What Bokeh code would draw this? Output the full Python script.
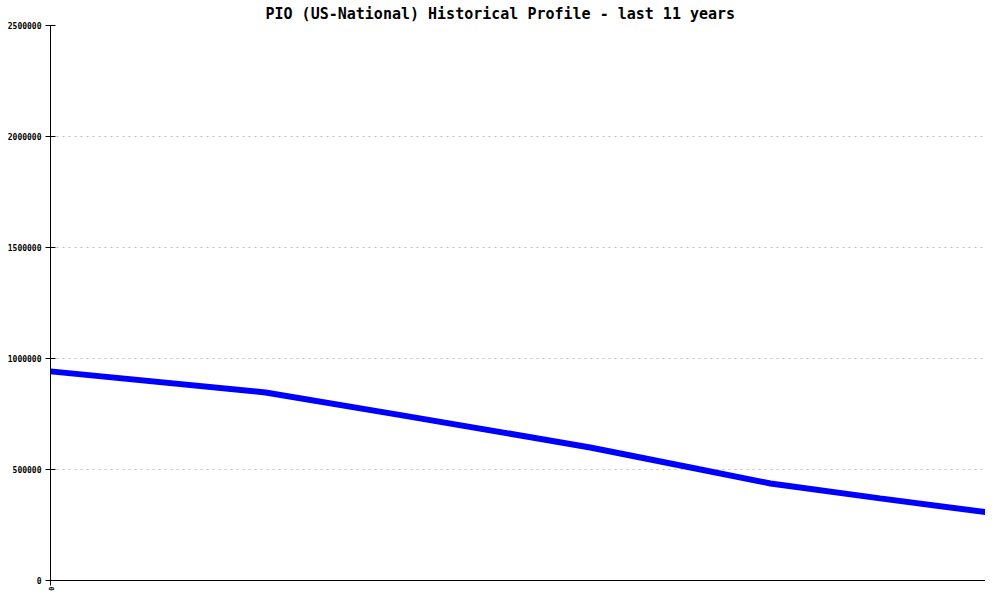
import math
from bokeh.plotting import figure
from bokeh.models import FixedTicker, Range1d, Span
from bokeh.embed import file_html
from bokeh.resources import INLINE

# Data (years since start, value)
years = [0.0, 2.53, 4.12, 5.53, 6.35, 7.53, 8.47, 9.76, 11.0]
values = [942000, 847000, 745000, 653000, 599000, 509000, 437000, 370000, 308000]
y_ticks = [0, 500000, 1000000, 1500000, 2000000, 2500000]
x_ticks = [0]
title_text = "PIO (US-National) Historical Profile - last 11 years"

FONT = "DejaVu Sans Mono"

p = figure(frame_width=935, frame_height=555, output_backend="svg", toolbar_location=None,
           x_range=Range1d(0, 11), y_range=Range1d(0, 2500000),
           title=title_text, min_border_left=50, min_border_right=0,
           min_border_top=17, min_border_bottom=12)

p.title.align = "left"
p.title.text_font = FONT
p.title.text_font_size = "15px"
p.title.text_font_style = "bold"
p.title.text_color = "black"
p.title.standoff = 5
p.title.offset = 215

p.outline_line_color = None
p.background_fill_color = "white"
p.border_fill_color = "white"

p.line(years, values, line_color="#0000ff", line_width=6)

# y axis
yax = p.yaxis[0]
yax.ticker = FixedTicker(ticks=y_ticks)
yax.major_label_text_font = FONT
yax.major_label_text_font_size = "8px"
yax.major_label_text_font_style = "bold"
yax.major_label_text_color = "black"
yax.major_tick_in = 5
yax.major_tick_out = 5
yax.minor_tick_line_color = None
yax.axis_line_color = "black"
yax.major_label_standoff = 4
yax.formatter.use_scientific = False

# x axis
xax = p.xaxis[0]
xax.ticker = FixedTicker(ticks=x_ticks)
xax.major_label_text_font = FONT
xax.major_label_text_font_size = "7px"
xax.major_label_text_font_style = "bold"
xax.major_label_text_color = "black"
xax.major_label_orientation = math.pi / 2
xax.major_tick_in = 0
xax.major_tick_out = 5
xax.minor_tick_line_color = None
xax.axis_line_color = "black"
xax.major_label_standoff = 1
xax.axis_label_standoff = 0

# right border line
p.add_layout(Span(location=11, dimension="height", line_color="black", line_width=1))

p.xgrid.visible = False
p.ygrid.ticker = FixedTicker(ticks=y_ticks[1:])
p.ygrid.grid_line_color = "#c0c0c0"
p.ygrid.grid_line_dash = "2 4"
p.ygrid.grid_line_width = 1

open("out.html", "w").write(file_html(p, INLINE))
